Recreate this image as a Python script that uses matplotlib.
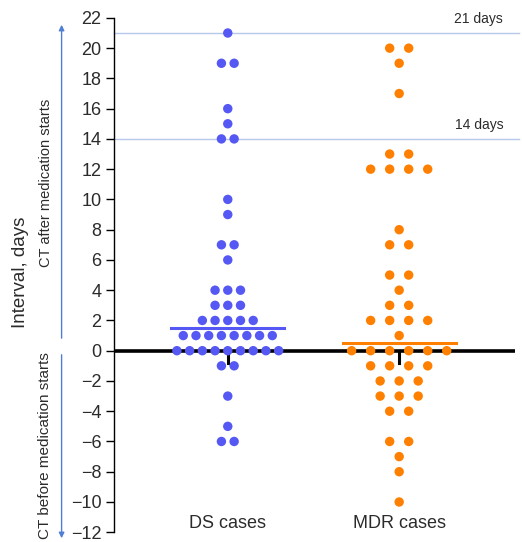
import matplotlib.pyplot as plt
import numpy as np

plt.rcParams['font.family'] = ['Liberation Sans', 'DejaVu Sans']

# interval values (days) and how many cases sit at each value
ds_values = [21, 19, 16, 15, 14, 10, 9, 7, 6, 4, 3, 2, 1, 0, -1, -3, -5, -6]
ds_counts = [1, 2, 1, 1, 2, 1, 1, 2, 1, 3, 3, 5, 8, 9, 2, 1, 1, 2]

mdr_values = [20, 19, 17, 13, 12, 8, 7, 5, 4, 3, 2, 1, 0, -1, -2, -3, -4, -6, -7, -8, -10]
mdr_counts = [2, 1, 1, 2, 4, 1, 2, 2, 1, 2, 4, 1, 6, 4, 3, 3, 2, 2, 1, 1, 1]

groups = ['DS cases', 'MDR cases']
ref_days = [21, 14]
ref_labels = ['21 days', '14 days']
yticks = list(range(-12, 23, 2))


def swarm(center, values, counts, spacing):
    xs, ys = [], []
    for v, n in zip(values, counts):
        offs = (np.arange(n) - (n - 1) / 2) * spacing
        xs.extend(center + offs)
        ys.extend([v] * n)
    return np.array(xs), np.array(ys)


fig = plt.figure(figsize=(5.22, 5.42), dpi=100)
ax = fig.add_axes([0.218, 0.018, 0.769, 0.949])

ax.set_xlim(0.335, 2.677)
ax.set_ylim(-12, 22)

txt_col = '#2b2b2b'

# reference lines for 21 and 14 days
for d, lab in zip(ref_days, ref_labels):
    ax.plot([0.335, 2.70], [d, d], color='#b7c9ea', lw=1, clip_on=False, zorder=1)
    ax.text(2.607, d + 0.45, lab, ha='right', va='bottom', fontsize=10, color=txt_col)

# zero line
ax.axhline(0, color='black', lw=2.6, zorder=2)

colors = ['#5558f2', '#ff8000']
spacings = [0.0742, 0.111]
all_data = [(ds_values, ds_counts), (mdr_values, mdr_counts)]

for i, ((vals, cnts), col, sp) in enumerate(zip(all_data, colors, spacings)):
    center = i + 1
    xs, ys = swarm(center, vals, cnts, sp)
    # little stub under the zero line
    ax.plot([center, center], [0, -0.8], color='black', lw=2.2, zorder=2)
    ax.scatter(xs, ys, s=46, color=col, edgecolors='none', zorder=4)
    med = np.median(ys)
    ax.plot([center - 0.33, center + 0.33], [med, med], color=col, lw=2.2, zorder=3)
    ax.text(center, -11.4, groups[i], ha='center', va='center', fontsize=13, color=txt_col)

ax.set_yticks(yticks)
ax.set_yticklabels([str(t).replace('-', '\u2212') for t in yticks], fontsize=13, color=txt_col)
ax.tick_params(axis='y', length=6, width=1, direction='out', pad=3)
ax.set_xticks([])
for s in ['top', 'right', 'bottom']:
    ax.spines[s].set_visible(False)
ax.spines['left'].set_linewidth(1)

# side labels and arrows
fig.text(0.040, 0.497, 'Interval, days', rotation=90, ha='center', va='center', fontsize=13.5, color=txt_col)
fig.text(0.089, 0.662, 'CT after medication starts', rotation=90, ha='center', va='center', fontsize=10.5,
         color=txt_col)
fig.text(0.086, 0.178, 'CT before medication starts', rotation=90, ha='center', va='center', fontsize=11,
         color=txt_col)

arrow_col = '#4f7fd4'
fig.add_artist(plt.matplotlib.patches.FancyArrowPatch((0.118, 1 - 341 / 542), (0.118, 1 - 22 / 542),
                                                       transform=fig.transFigure, arrowstyle='-|>',
                                                       mutation_scale=8, color=arrow_col, lw=1))
fig.add_artist(plt.matplotlib.patches.FancyArrowPatch((0.118, 1 - 352 / 542), (0.118, 1 - 541 / 542),
                                                       transform=fig.transFigure, arrowstyle='-|>',
                                                       mutation_scale=8, color=arrow_col, lw=1))

fig.savefig('out.png', dpi=100)
